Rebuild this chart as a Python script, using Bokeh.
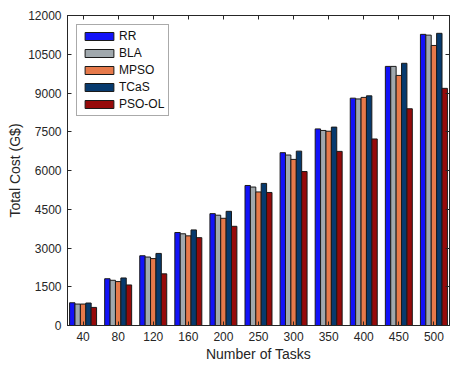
from bokeh.plotting import figure
from bokeh.models import ColumnDataSource, FixedTicker, LinearAxis, Range1d, Legend, LegendItem
from bokeh.transform import dodge
from bokeh.embed import file_html
from bokeh.resources import INLINE

tasks = ["40", "80", "120", "160", "200", "250", "300", "350", "400", "450", "500"]
rr = [880, 1810, 2700, 3600, 4330, 5420, 6690, 7610, 8800, 10030, 11270]
bla = [830, 1750, 2650, 3550, 4270, 5360, 6600, 7550, 8770, 10030, 11240]
mpso = [830, 1700, 2590, 3470, 4150, 5170, 6430, 7520, 8830, 9680, 10840]
tcas = [870, 1840, 2790, 3700, 4420, 5500, 6750, 7680, 8890, 10150, 11310]
psool = [700, 1570, 2000, 3400, 3840, 5150, 5960, 6740, 7220, 8390, 9180]
series_names = ["RR", "BLA", "MPSO", "TCaS", "PSO-OL"]
colors = ["#1212F8", "#A0A8AD", "#E6794A", "#073A6E", "#960A0A"]
y_ticks = [0, 1500, 3000, 4500, 6000, 7500, 9000, 10500, 12000]

pos = list(range(1, len(tasks) + 1))
src = ColumnDataSource(dict(x=pos, RR=rr, BLA=bla, MPSO=mpso, TCaS=tcas, PSOOL=psool))
keys = ["RR", "BLA", "MPSO", "TCaS", "PSOOL"]

FONT = "Liberation Sans"
TXT = "#262626"

p = figure(width=452, height=364, output_backend="svg", toolbar_location=None,
           x_range=Range1d(0.556, 11.444), y_range=Range1d(0, 12000),
           min_border_left=67, min_border_right=3, min_border_top=15, min_border_bottom=34)
p.background_fill_color = "white"
p.border_fill_color = "white"
p.xgrid.visible = False
p.ygrid.visible = False
p.outline_line_color = TXT
p.outline_line_width = 1

bw = 0.1538
offs = [-2 * bw, -bw, 0, bw, 2 * bw]
items = []
for k, name, c, o in zip(keys, series_names, colors, offs):
    r = p.vbar(x=dodge("x", o, range=p.x_range), top=k, width=bw, source=src,
               fill_color=c, line_color="#1a1a1a", line_width=1)
    items.append(LegendItem(label=name, renderers=[r]))

def style_axis(ax, labels=True):
    ax.axis_line_color = TXT
    ax.major_tick_line_color = TXT
    ax.major_tick_in = 4
    ax.major_tick_out = 0
    ax.minor_tick_line_color = None
    ax.major_label_text_font = FONT
    ax.major_label_text_font_size = "12px"
    ax.major_label_text_color = TXT
    ax.axis_label_text_font = FONT
    ax.axis_label_text_font_size = "14px"
    ax.axis_label_text_font_style = "normal"
    ax.axis_label_text_color = TXT
    if not labels:
        ax.major_label_text_font_size = "0px"
        ax.major_label_text_alpha = 0
        ax.major_label_standoff = 0

xt = FixedTicker(ticks=pos)
overrides = {i: t for i, t in zip(pos, tasks)}
p.xaxis.ticker = xt
p.xaxis.major_label_overrides = overrides
p.xaxis.axis_label = "Number of Tasks"
p.xaxis.major_label_standoff = 6
p.xaxis.axis_label_standoff = 2
style_axis(p.xaxis[0])

p.yaxis.ticker = FixedTicker(ticks=y_ticks)
p.yaxis.axis_label = "Total Cost (G$)"
p.yaxis.major_label_standoff = 6
p.yaxis.axis_label_standoff = 2
style_axis(p.yaxis[0])

top_ax = LinearAxis(ticker=FixedTicker(ticks=pos))
style_axis(top_ax, labels=False)
p.add_layout(top_ax, "above")
right_ax = LinearAxis(ticker=FixedTicker(ticks=y_ticks))
style_axis(right_ax, labels=False)
p.add_layout(right_ax, "right")

legend = Legend(items=items, location="top_left", margin=9, padding=4, spacing=3,
                glyph_width=36, glyph_height=10, label_height=13,
                label_text_font=FONT, label_text_font_size="12px", label_text_color="#111111",
                label_standoff=2, border_line_color="#555555", border_line_width=1,
                background_fill_color="white", background_fill_alpha=1)
p.add_layout(legend)

open("out.html", "w").write(file_html(p, INLINE))
